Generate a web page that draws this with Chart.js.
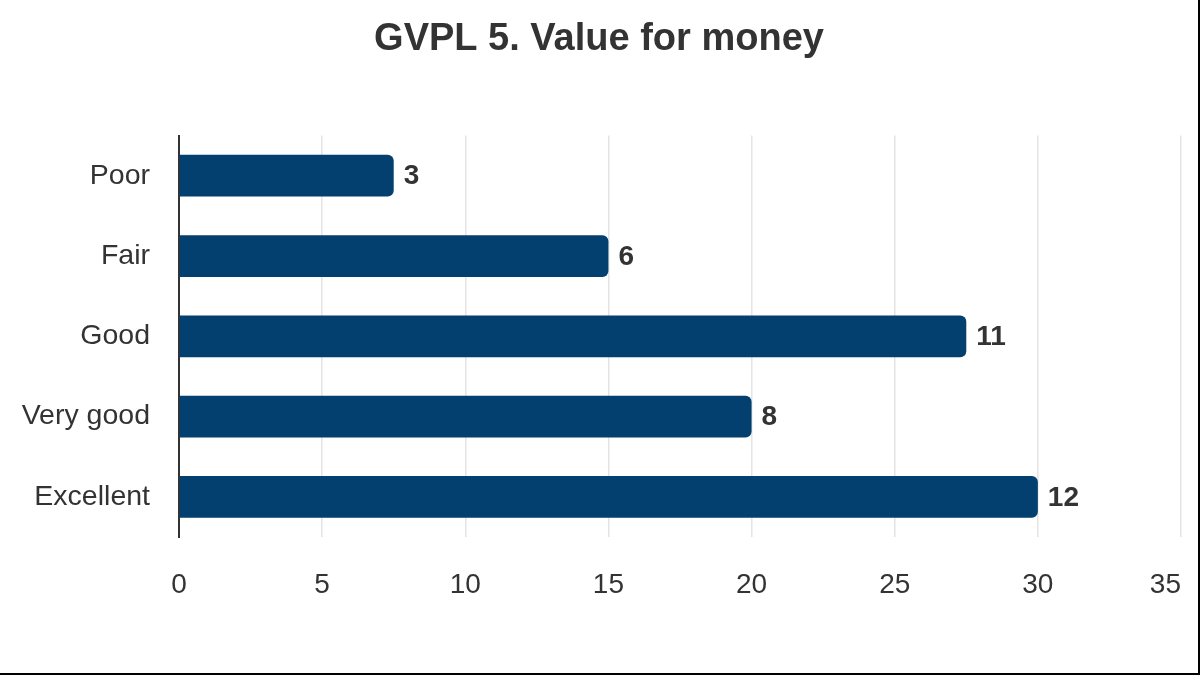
<!DOCTYPE html>
<html>
<head>
<meta charset="utf-8">
<script src="https://cdn.jsdelivr.net/npm/chart.js@4.4.1/dist/chart.umd.min.js"></script>
<style>
    html, body { margin: 0; padding: 0; background: #fff; }
    #wrap {
        width: 1198px;
        height: 673px;
        border-right: 2px solid #000;
        border-bottom: 2px solid #000;
        position: relative;
    }
</style>
</head>
<body>
<div id="wrap"><canvas id="chart"></canvas></div>
<script>
// data
const categories = ['Poor', 'Fair', 'Good', 'Very good', 'Excellent'];
const percentValues = [7.5, 15, 27.5, 20, 30];
const responseCounts = [3, 6, 11, 8, 12];
const xTicks = [0, 5, 10, 15, 20, 25, 30, 35];

const FONT = '"Liberation Sans", Arial, sans-serif';
const TEXT = '#333333';

// подписи значений справа от столбцов
const barLabels = {
    id: 'barLabels',
    afterDatasetsDraw(chart) {
        const ctx = chart.ctx;
        const meta = chart.getDatasetMeta(0);
        ctx.save();
        ctx.font = `bold 28px ${FONT}`;
        ctx.fillStyle = TEXT;
        ctx.textAlign = 'left';
        ctx.textBaseline = 'middle';
        meta.data.forEach((bar, i) => {
            ctx.fillText(String(responseCounts[i]), bar.x + 10, bar.y + 1);
        });
        ctx.restore();
    }
};

new Chart(document.getElementById('chart'), {
    type: 'bar',
    data: {
        labels: categories,
        datasets: [{
            data: percentValues,
            backgroundColor: '#03406f',
            borderRadius: 6,
            barPercentage: 0.65,
            categoryPercentage: 0.8
        }]
    },
    options: {
        indexAxis: 'y',
        responsive: true,
        maintainAspectRatio: false,
        animation: false,
        layout: { padding: { left: 0, right: 0, top: 17, bottom: 0 } },
        plugins: {
            legend: { display: false },
            tooltip: { enabled: false },
            title: {
                display: true,
                text: 'GVPL 5. Value for money',
                color: TEXT,
                font: { family: FONT, size: 38, weight: 'bold', lineHeight: 1.2 },
                padding: { top: 0, bottom: 73 }
            }
        },
        scales: {
            x: {
                min: 0,
                max: 35,
                afterBuildTicks: scale => { scale.ticks = xTicks.map(v => ({ value: v })); },
                afterFit: scale => {
                    scale.height = 136;
                    scale.paddingLeft = 0;
                    scale.paddingRight = 17;
                },
                grid: { color: '#e4e4e4', lineWidth: 1.5, drawTicks: false },
                border: { display: false },
                ticks: {
                    color: TEXT,
                    padding: 31,
                    font: { family: FONT, size: 28 },
                    // последняя метка прижата к краю, как в оригинале
                    callback: (value, index, ticks) =>
                        index === ticks.length - 1 ? value + '    ' : String(value)
                }
            },
            y: {
                afterFit: scale => { scale.width = 179; },
                grid: { display: false, drawTicks: false },
                border: { display: true, color: '#333333', width: 2 },
                ticks: {
                    color: TEXT,
                    padding: 29,
                    font: { family: FONT, size: 28.5 }
                }
            }
        }
    },
    plugins: [barLabels]
});
</script>
</body>
</html>
